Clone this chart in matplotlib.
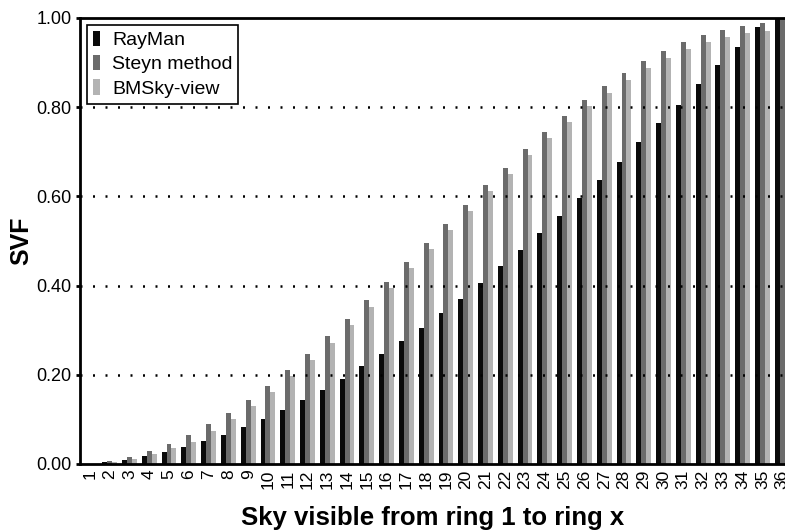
import matplotlib
matplotlib.use("Agg")
import matplotlib.pyplot as plt
import numpy as np

plt.rcParams['font.family'] = ['Liberation Sans', 'DejaVu Sans']

rings = list(range(1, 37))
rayman = [0.001, 0.004, 0.009, 0.018, 0.028, 0.038, 0.051, 0.066, 0.083, 0.102,
          0.122, 0.144, 0.167, 0.191, 0.219, 0.246, 0.275, 0.306, 0.339, 0.371,
          0.406, 0.443, 0.480, 0.518, 0.556, 0.596, 0.637, 0.678, 0.723, 0.765,
          0.805, 0.851, 0.894, 0.935, 0.980, 1.000]
steyn = [0.001, 0.006, 0.015, 0.029, 0.045, 0.065, 0.089, 0.115, 0.144, 0.176,
         0.210, 0.247, 0.286, 0.326, 0.367, 0.409, 0.452, 0.495, 0.538, 0.581,
         0.626, 0.664, 0.706, 0.744, 0.781, 0.816, 0.847, 0.877, 0.903, 0.926,
         0.946, 0.963, 0.973, 0.983, 0.988, 1.000]
bmsky = [0.001, 0.005, 0.012, 0.022, 0.035, 0.050, 0.074, 0.100, 0.130, 0.162,
         0.198, 0.233, 0.272, 0.312, 0.353, 0.395, 0.439, 0.483, 0.525, 0.568,
         0.612, 0.651, 0.693, 0.730, 0.767, 0.802, 0.832, 0.861, 0.888, 0.911,
         0.931, 0.946, 0.957, 0.966, 0.971, 0.985]
series_names = ["RayMan", "Steyn method", "BMSky-view"]
colors = ["#0a0a0a", "#6b6b6b", "#b3b3b3"]
yticks = [0.0, 0.2, 0.4, 0.6, 0.8, 1.0]

W, H = 785, 532
fig = plt.figure(figsize=(W / 100, H / 100), dpi=100)
ax = fig.add_axes([80 / W, (H - 464) / H, (W - 80) / W, (464 - 18) / H])

x = np.array(rings, dtype=float)
bw = 0.25
for i, (vals, name, c) in enumerate(zip([rayman, steyn, bmsky], series_names, colors)):
    ax.bar(x + (i - 1) * bw, vals, width=bw, color=c, label=name, zorder=2, linewidth=0)

ax.set_xlim(0.5, 36.14)
ax.set_ylim(0, 1.0)
ax.set_yticks(yticks)
ax.set_yticklabels([f"{v:.2f}" for v in yticks])
ax.set_xticks(x)
ax.set_xticklabels([str(r) for r in rings], rotation=90)

for g in yticks[1:-1]:
    ax.axhline(g, color="black", linestyle=(0, (0.8, 4.2)), linewidth=1.8, zorder=3)

for s in ["left", "bottom", "top"]:
    ax.spines[s].set_linewidth(2)
    ax.spines[s].set_color("black")
ax.spines["right"].set_visible(False)

ax.tick_params(axis="y", length=3, width=2, labelsize=13, pad=3)
ax.tick_params(axis="x", length=0, labelsize=12.5, pad=4)

ax.set_ylabel("SVF", fontsize=18, fontweight="bold", labelpad=2)
ax.set_xlabel("Sky visible from ring 1 to ring x", fontsize=18.5, fontweight="bold", labelpad=12)

leg = ax.legend(loc="upper left", fontsize=14, handlelength=0.4, handleheight=0.85,
                handletextpad=0.6, labelspacing=0.3, borderaxespad=0.35, borderpad=0.3,
                fancybox=False, edgecolor="black", framealpha=1)
leg.get_frame().set_linewidth(1.2)
leg.set_zorder(5)

fig.savefig("out.png", dpi=100)
